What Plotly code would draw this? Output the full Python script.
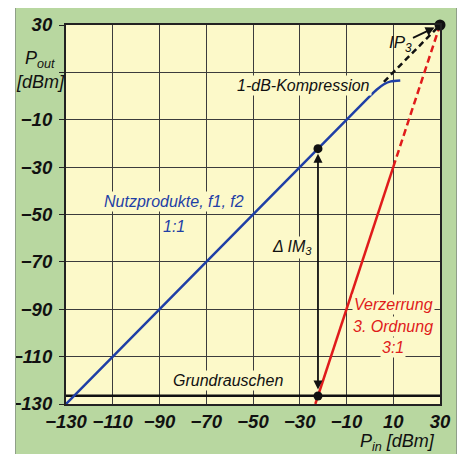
import plotly.graph_objects as go

# ---- data ----
x_ticks = [-130, -110, -90, -70, -50, -30, -10, 10, 30]
y_ticks = [30, 10, -10, -30, -50, -70, -90, -110, -130]
y_tick_text = ["30", "", "\u221210", "\u221230", "\u221250", "\u221270", "\u221290", "\u2212110", "\u2212130"]
x_tick_text = ["\u2212130", "\u2212110", "\u221290", "\u221270", "\u221250", "\u221230", "\u221210", "10", "30"]

nutz_x = [-130, 0, 3, 6, 9, 13]
nutz_y = [-130, 0, 2.8, 5.0, 6.2, 6.6]

verz_x = [-23.33, 10]
verz_y = [-130, -30]
verz_ext_x = [10, 30]
verz_ext_y = [-30, 30]

komp_ext_x = [6, 30]
komp_ext_y = [6, 30]

ip3_x = [30]
ip3_y = [30]

noise_floor = -126.5
dim_x = -22.2
dim_top = -22.2
dim_bot = -126.6

GREEN = "#b8d7a0"
YELLOW = "#fcf9c9"
BLUE = "#1f3fa6"
RED = "#e01b1b"
GRID = "#3c3c3c"
FONT = "Liberation Sans Narrow, Arial Narrow, Liberation Sans, sans-serif"

fig = go.Figure()

fig.add_trace(go.Scatter(x=[-130, 30], y=[noise_floor, noise_floor], mode="lines",
                         line=dict(color="#111", width=2.5), hoverinfo="skip"))
fig.add_trace(go.Scatter(x=komp_ext_x, y=komp_ext_y, mode="lines",
                         line=dict(color="#111", width=2.5, dash="6px,4px"), hoverinfo="skip"))
fig.add_trace(go.Scatter(x=verz_ext_x, y=verz_ext_y, mode="lines",
                         line=dict(color=RED, width=2.5, dash="7px,4px"), hoverinfo="skip"))
fig.add_trace(go.Scatter(x=nutz_x, y=nutz_y, mode="lines",
                         line=dict(color=BLUE, width=2.5, shape="spline", smoothing=0.6), hoverinfo="skip"))
fig.add_trace(go.Scatter(x=verz_x, y=verz_y, mode="lines",
                         line=dict(color=RED, width=2.5), hoverinfo="skip"))
fig.add_trace(go.Scatter(x=[dim_x, dim_x], y=[dim_top, dim_bot], mode="markers",
                         marker=dict(color="#111", size=9), hoverinfo="skip"))
fig.add_trace(go.Scatter(x=ip3_x, y=ip3_y, mode="markers",
                         marker=dict(color="#111", size=11), hoverinfo="skip", cliponaxis=False))

# plot area (figure px): left 58, right 432, top 17, bottom 396 ; figure 457 x 446
PL, PR, PT, PB, W, H = 58, 432, 17, 396, 457, 446
PW, PH = PR - PL, PB - PT


def px_x(p):
    return (p - PL) / PW


def px_y(p):
    return (PB - p) / PH


shapes = [
    dict(type="rect", xref="paper", yref="paper", x0=px_x(0), x1=px_x(7), y0=px_y(H), y1=px_y(0),
         fillcolor="white", line=dict(width=0), layer="above"),
    dict(type="rect", xref="paper", yref="paper", x0=px_x(449), x1=px_x(W), y0=px_y(H), y1=px_y(0),
         fillcolor="white", line=dict(width=0), layer="above"),
    dict(type="line", xref="paper", yref="paper", x0=px_x(7.5), x1=px_x(7.5), y0=px_y(H), y1=px_y(0),
         line=dict(color="#8f9f88", width=1), layer="above"),
    dict(type="line", xref="paper", yref="paper", x0=px_x(448.5), x1=px_x(448.5), y0=px_y(H), y1=px_y(0),
         line=dict(color="#8f9f88", width=1), layer="above"),
]

ann_font = dict(family=FONT, size=16, style="italic")
annotations = [
    dict(x=-83.7, y=-44.7, text="Nutzprodukte, f1, f2", font=dict(ann_font, color=BLUE)),
    dict(x=-83.7, y=-55.2, text="1:1", font=dict(ann_font, color=BLUE)),
    dict(x=-28.6, y=4.5, text="1-dB-Kompression", font=dict(ann_font, color="#111")),
    dict(x=-33.2, y=-64.1, text="\u0394 IM<sub>3</sub>", font=dict(ann_font, color="#111")),
    dict(x=10, y=-88.1, text="Verzerrung", font=dict(ann_font, color=RED)),
    dict(x=10, y=-97.4, text="3. Ordnung", font=dict(ann_font, color=RED)),
    dict(x=10, y=-106.3, text="3:1", font=dict(ann_font, color=RED)),
    dict(x=-60.6, y=-120.2, text="Grundrauschen", font=dict(ann_font, color="#111")),
]
for a in annotations:
    a.update(xref="x", yref="y", showarrow=False, bgcolor=YELLOW, borderpad=1)

# IP3 label with arrow
annotations.append(dict(x=ip3_x[0], y=ip3_y[0], xref="x", yref="y", text="IP<sub>3</sub>",
                        font=dict(ann_font, size=17, color="#111"), showarrow=True, ax=-40, ay=19,
                        arrowhead=2, arrowsize=1, arrowwidth=1.8, arrowcolor="#111", standoff=6))
# Delta IM3 double arrow
annotations.append(dict(x=dim_x, y=dim_top, ax=dim_x, ay=dim_bot, xref="x", yref="y",
                        axref="x", ayref="y", text="", showarrow=True, arrowhead=2,
                        startarrowhead=2, arrowside="end+start", arrowsize=1, startarrowsize=1,
                        arrowwidth=1.8, arrowcolor="#111", standoff=5, startstandoff=5))
# axis titles (paper coords)
title_font = dict(ann_font, size=18, color="#111")
annotations.append(dict(x=px_x(32), y=px_y(52), xref="paper", yref="paper", text="P<sub>out</sub>",
                        xanchor="center", yanchor="middle", showarrow=False, font=title_font))
annotations.append(dict(x=px_x(32), y=px_y(74), xref="paper", yref="paper", text="[dBm]",
                        xanchor="center", yanchor="middle", showarrow=False, font=title_font))
annotations.append(dict(x=px_x(389), y=px_y(434), xref="paper", yref="paper", text="P<sub>in</sub> [dBm]",
                        xanchor="center", yanchor="middle", showarrow=False, font=title_font))

tick_font = dict(family=FONT, size=18.5, style="italic", weight="bold", color="#111")

fig.update_layout(
    width=W, height=H,
    margin=dict(l=PL, r=W - PR, t=PT, b=H - PB, autoexpand=False),
    paper_bgcolor=GREEN,
    plot_bgcolor=YELLOW,
    showlegend=False,
    shapes=shapes,
    annotations=annotations,
    xaxis=dict(range=[-130, 30], tickvals=x_ticks, ticktext=x_tick_text,
               showgrid=True, gridcolor=GRID, gridwidth=1.3, zeroline=False,
               showline=True, linecolor="#222", linewidth=2.2, mirror=True,
               ticks="", ticklabelstandoff=0, tickfont=tick_font, fixedrange=True),
    yaxis=dict(range=[-130, 30], tickvals=y_ticks, ticktext=y_tick_text,
               showgrid=True, gridcolor=GRID, gridwidth=1.3, zeroline=False,
               showline=True, linecolor="#222", linewidth=2.2, mirror=True,
               ticks="outside", ticklen=5, tickcolor="#222", tickwidth=1.3, ticklabelstandoff=3,
               tickfont=tick_font, fixedrange=True),
)

fig.write_html("out.html")
